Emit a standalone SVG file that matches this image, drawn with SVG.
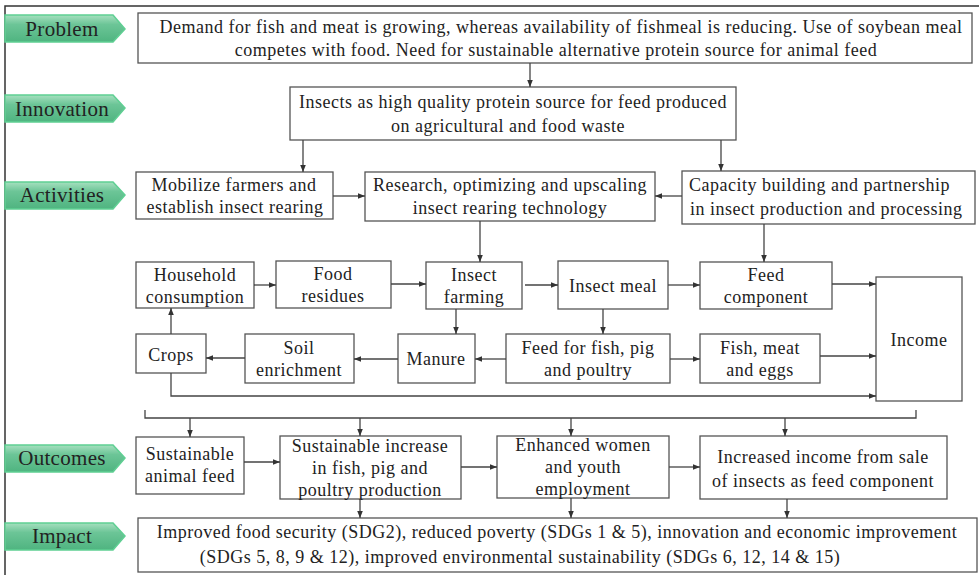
<svg xmlns="http://www.w3.org/2000/svg" width="979" height="575" viewBox="0 0 979 575">
<defs>
<linearGradient id="g" x1="0" y1="0" x2="0" y2="1">
<stop offset="0" stop-color="#a6e0bf"/>
<stop offset="0.35" stop-color="#6cc597"/>
<stop offset="1" stop-color="#4fb480"/>
</linearGradient>
<marker id="a" viewBox="0 0 10 10" refX="10" refY="5" markerWidth="7" markerHeight="7" markerUnits="userSpaceOnUse" orient="auto">
<path d="M0,1 L10,5 L0,9 z" fill="#333"/>
</marker>
</defs>
<style>
.b{fill:#fff;stroke:#555;stroke-width:1.3}
.t{font-size:18px;letter-spacing:0.5px;fill:#222;text-anchor:middle}
.s{text-anchor:start}
.lab{fill:url(#g);stroke:#5fcf93;stroke-width:1.5}
.lt{font-size:21px;letter-spacing:0.3px;fill:#222;text-anchor:middle}
.c{fill:none;stroke:#444;stroke-width:1.3}
.c2{fill:none;stroke:#444;stroke-width:1.3;marker-end:url(#a)}
</style>
<rect x="0" y="0" width="979" height="575" fill="#fff"/>
<path d="M5,575 L5,6 L979,6" fill="none" stroke="#333" stroke-width="1.5"/>
<g font-family="'Liberation Serif', 'DejaVu Serif', serif">
<g id="label-problem"><path class="lab" d="M5,15 L113,15 L125,29 L113,42 L5,42 z"/><text class="lt" x="62" y="36">Problem</text></g>
<g id="label-innovation"><path class="lab" d="M5,95 L113,95 L125,108 L113,122 L5,122 z"/><text class="lt" x="62" y="116">Innovation</text></g>
<g id="label-activities"><path class="lab" d="M5,182 L113,182 L125,195 L113,209 L5,209 z"/><text class="lt" x="62" y="202">Activities</text></g>
<g id="label-outcomes"><path class="lab" d="M5,445 L113,445 L125,458 L113,472 L5,472 z"/><text class="lt" x="62" y="465">Outcomes</text></g>
<g id="label-impact"><path class="lab" d="M5,523 L113,523 L125,536 L113,550 L5,550 z"/><text class="lt" x="62" y="543">Impact</text></g>

<g id="problem"><rect class="b" x="138" y="13" width="834" height="50"/>
<text class="t" x="561" y="33">Demand for fish and meat is growing, whereas availability of fishmeal is reducing. Use of soybean meal</text>
<text class="t" x="556" y="56">competes with food. Need for sustainable alternative protein source for animal feed</text></g>

<g id="innovation"><rect class="b" x="290" y="87" width="446" height="53"/>
<text class="t" x="513" y="108">Insects as high quality protein source for feed produced</text>
<text class="t" x="508" y="132">on agricultural and food waste</text></g>

<g id="mobilize"><rect class="b" x="136" y="172" width="197" height="47"/>
<text class="t" x="234" y="191">Mobilize farmers and</text><text class="t" x="235" y="213">establish insect rearing</text></g>
<g id="research"><rect class="b" x="365" y="172" width="290" height="49"/>
<text class="t" x="510" y="191">Research, optimizing and upscaling</text><text class="t" x="510" y="214">insect rearing technology</text></g>
<g id="capacity"><rect class="b" x="682" y="171" width="293" height="53"/>
<text class="t s" x="689" y="191">Capacity building and partnership</text><text class="t s" x="690" y="215">in insect production and processing</text></g>

<g id="household"><rect class="b" x="136" y="262" width="118" height="46"/>
<text class="t" x="195" y="281">Household</text><text class="t" x="195" y="303">consumption</text></g>
<g id="food-residues"><rect class="b" x="276" y="261" width="115" height="47"/>
<text class="t" x="333" y="280">Food</text><text class="t" x="333" y="302">residues</text></g>
<g id="insect-farming"><rect class="b" x="426" y="262" width="96" height="47"/>
<text class="t" x="474" y="281">Insect</text><text class="t" x="474" y="303">farming</text></g>
<g id="insect-meal"><rect class="b" x="558" y="261" width="110" height="48"/>
<text class="t" x="613" y="292">Insect meal</text></g>
<g id="feed-component"><rect class="b" x="700" y="262" width="132" height="47"/>
<text class="t" x="766" y="281">Feed</text><text class="t" x="766" y="303">component</text></g>
<g id="income"><rect class="b" x="876" y="277" width="86" height="124"/>
<text class="t" x="919" y="346">Income</text></g>

<g id="crops"><rect class="b" x="136" y="334" width="70" height="39"/>
<text class="t" x="171" y="361">Crops</text></g>
<g id="soil"><rect class="b" x="245" y="334" width="109" height="49"/>
<text class="t" x="299" y="354">Soil</text><text class="t" x="299" y="376">enrichment</text></g>
<g id="manure"><rect class="b" x="398" y="334" width="77" height="49"/>
<text class="t" x="436" y="365">Manure</text></g>
<g id="feed-fish"><rect class="b" x="506" y="334" width="164" height="49"/>
<text class="t" x="588" y="354">Feed for fish, pig</text><text class="t" x="588" y="376">and poultry</text></g>
<g id="fish-meat"><rect class="b" x="700" y="334" width="120" height="49"/>
<text class="t" x="760" y="354">Fish, meat</text><text class="t" x="760" y="376">and eggs</text></g>

<g id="sustainable-feed"><rect class="b" x="136" y="437" width="108" height="57"/>
<text class="t" x="190" y="460">Sustainable</text><text class="t" x="190" y="482">animal feed</text></g>
<g id="sustainable-increase"><rect class="b" x="280" y="436" width="181" height="63"/>
<text class="t" x="370" y="452">Sustainable increase</text><text class="t" x="370" y="474">in fish, pig and</text><text class="t" x="370" y="496">poultry production</text></g>
<g id="enhanced"><rect class="b" x="497" y="436" width="172" height="62"/>
<text class="t" x="583" y="451">Enhanced women</text><text class="t" x="583" y="473">and youth</text><text class="t" x="583" y="495">employment</text></g>
<g id="increased-income"><rect class="b" x="700" y="436" width="247" height="63"/>
<text class="t" x="823" y="463">Increased income from sale</text><text class="t" x="823" y="487">of insects as feed component</text></g>

<g id="impact"><rect class="b" x="138" y="518" width="839" height="54"/>
<text class="t" x="557" y="538">Improved food security (SDG2), reduced poverty (SDGs 1 &amp; 5), innovation and economic improvement</text>
<text class="t" x="520" y="563">(SDGs 5, 8, 9 &amp; 12), improved environmental sustainability (SDGs 6, 12, 14 &amp; 15)</text></g>
</g>
<g id="connectors">
<path class="c2" d="M530,63 L530,87"/>
<path class="c2" d="M303,140 L303,172"/>
<path class="c2" d="M721,140 L721,171"/>
<path class="c2" d="M333,196 L365,196"/>
<path class="c2" d="M682,196 L655,196"/>
<path class="c2" d="M480,221 L480,262"/>
<path class="c2" d="M764,224 L764,262"/>
<path class="c2" d="M254,285 L276,285"/>
<path class="c2" d="M391,284 L426,284"/>
<path class="c2" d="M525,285 L558,285"/>
<path class="c2" d="M668,285 L700,285"/>
<path class="c2" d="M832,284 L876,284"/>
<path class="c2" d="M456,309 L456,334"/>
<path class="c2" d="M603,309 L603,334"/>
<path class="c2" d="M506,359 L475,359"/>
<path class="c2" d="M398,359 L354,359"/>
<path class="c2" d="M245,358 L206,358"/>
<path class="c2" d="M171,334 L171,308"/>
<path class="c2" d="M670,359 L700,359"/>
<path class="c2" d="M820,356 L876,356"/>
<path class="c2" d="M171,373 L171,396 L876,396"/>
<path class="c" d="M145,410 L145,418 L916,418 L916,410"/>
<path class="c2" d="M190,418 L190,437"/>
<path class="c2" d="M360,418 L360,436"/>
<path class="c2" d="M571,418 L571,436"/>
<path class="c2" d="M785,418 L785,436"/>
<path class="c2" d="M244,462 L280,462"/>
<path class="c2" d="M461,467 L497,467"/>
<path class="c2" d="M669,467 L700,467"/>
<path class="c2" d="M360,499 L360,518"/>
<path class="c2" d="M571,498 L571,518"/>
<path class="c2" d="M787,499 L787,518"/>
</g>
</svg>
